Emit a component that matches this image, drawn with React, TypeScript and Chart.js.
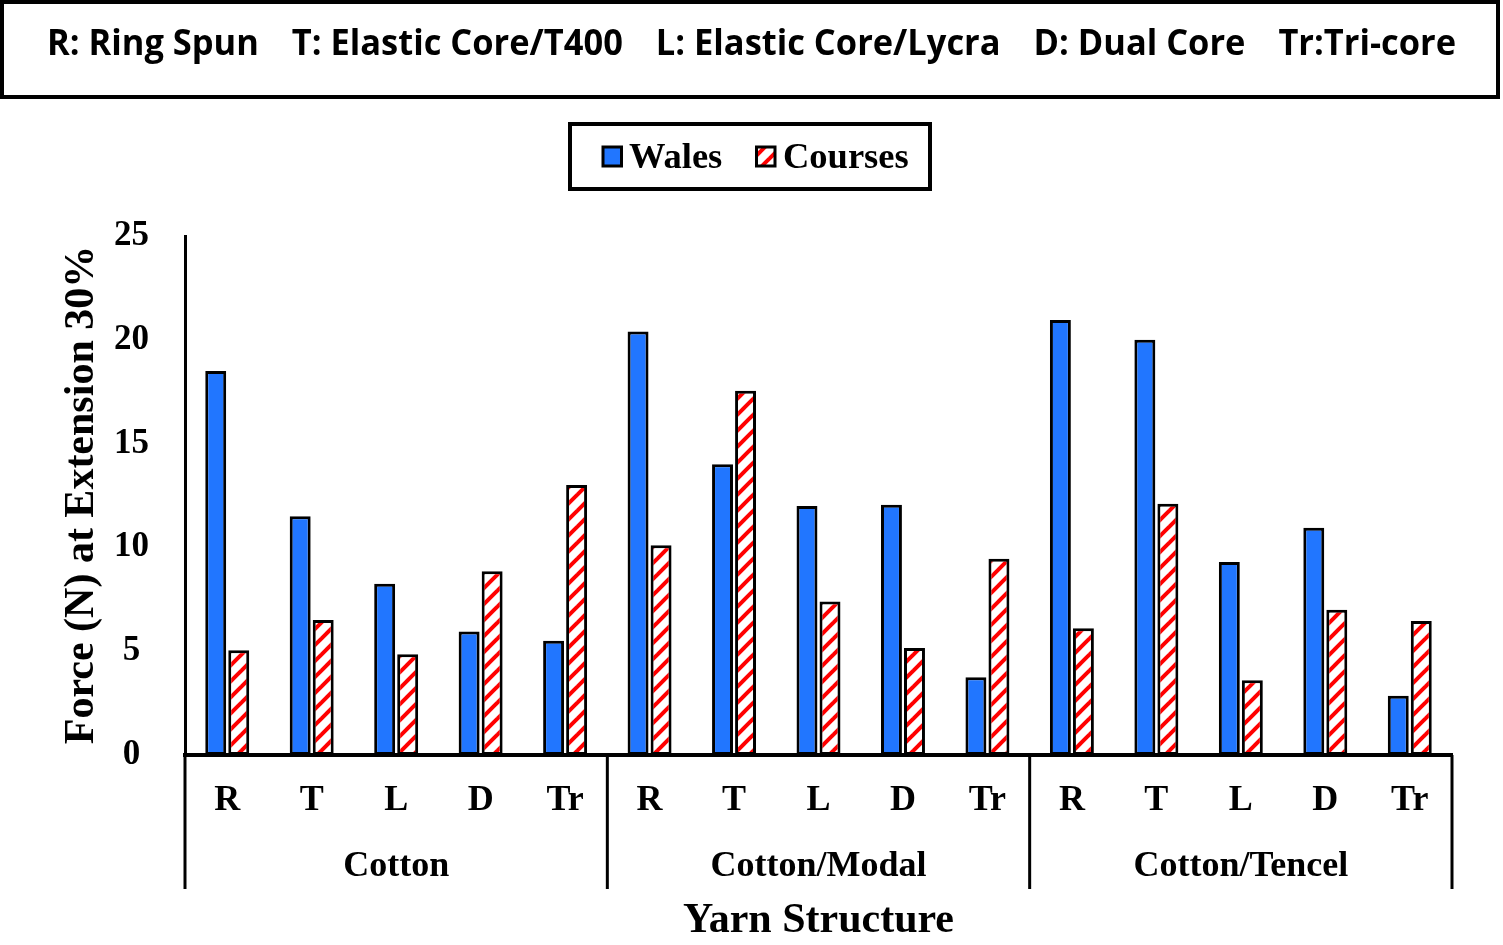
import React, { useEffect, useRef } from 'react';
import { Chart, registerables } from 'chart.js';

Chart.register(...registerables);

// ---------- data ----------
const KEY_ITEMS = ['R: Ring Spun', 'T: Elastic Core/T400', 'L: Elastic Core/Lycra', 'D: Dual Core', 'Tr:Tri-core'];
const STRUCTURES = ['R', 'T', 'L', 'D', 'Tr'];
const BLENDS = ['Cotton', 'Cotton/Modal', 'Cotton/Tencel'];
const SERIES_NAMES = ['Wales', 'Courses'];
const WALES = [18.5, 11.5, 8.25, 5.95, 5.5, 20.4, 14.0, 12.0, 12.05, 3.75, 20.95, 20.0, 9.3, 10.95, 2.85];
const COURSES = [5.05, 6.5, 4.85, 8.85, 13.0, 10.1, 17.55, 7.4, 5.15, 9.45, 6.1, 12.1, 3.6, 7.0, 6.45];
const Y_MIN = 0;
const Y_MAX = 25;
const Y_STEP = 5;
const Y_TITLE = 'Force (N) at Extension 30%';
const X_TITLE = 'Yarn Structure';

const SERIF = "'Liberation Serif', 'Times New Roman', serif";
const BLUE = '#2176FF';
const RED = '#FF0000';

const LABELS = BLENDS.flatMap(() => STRUCTURES);

function makeStripes(ctx: CanvasRenderingContext2D) {
  const s = 16;
  const tile = document.createElement('canvas');
  tile.width = s;
  tile.height = s;
  const g = tile.getContext('2d')!;
  g.fillStyle = '#ffffff';
  g.fillRect(0, 0, s, s);
  g.strokeStyle = RED;
  g.lineWidth = 4;
  for (let k = 0; k <= 2; k++) {
    g.beginPath();
    g.moveTo(-s, k * s + s);
    g.lineTo(2 * s, k * s - 2 * s);
    g.stroke();
  }
  return ctx.createPattern(tile, 'repeat')!;
}

const decorPlugin = {
  id: 'decor',
  afterDraw(chart: any) {
    const { ctx, chartArea: a, scales } = chart;
    const xs = scales.x;
    ctx.save();
    ctx.fillStyle = '#000';
    ctx.strokeStyle = '#000';

    // ---- key box at the top ----
    ctx.lineWidth = 4;
    ctx.strokeRect(2, 2, 1496, 95);
    ctx.font = "bold 36px 'Open Sans', 'Noto Sans', sans-serif";
    ctx.textAlign = 'left';
    ctx.textBaseline = 'alphabetic';
    const widths = KEY_ITEMS.map((t) => ctx.measureText(t).width);
    const gap = 33;
    const x0 = 47;
    const x1 = 1456;
    const sx = (x1 - x0 - gap * (KEY_ITEMS.length - 1)) / widths.reduce((p, q) => p + q, 0);
    let cx = x0;
    KEY_ITEMS.forEach((t, i) => {
      ctx.save();
      ctx.translate(cx, 55);
      ctx.scale(sx, 1);
      ctx.fillText(t, 0, 0);
      ctx.restore();
      cx += widths[i] * sx + gap;
    });

    // ---- legend box ----
    ctx.lineWidth = 4;
    ctx.strokeRect(570, 124, 360, 65);
    const swatchX = [603, 756.5];
    const textX = [629, 783];
    chart.data.datasets.forEach((ds: any, i: number) => {
      ctx.fillStyle = ds.backgroundColor;
      ctx.fillRect(swatchX[i], 147, 18.5, 19);
      ctx.lineWidth = 3;
      ctx.strokeRect(swatchX[i], 147, 18.5, 19);
      ctx.fillStyle = '#000';
      ctx.font = `bold 36.5px ${SERIF}`;
      ctx.textAlign = 'left';
      ctx.textBaseline = 'alphabetic';
      ctx.fillText(ds.label, textX[i], 168);
    });

    // ---- y axis title ----
    ctx.save();
    ctx.font = `bold 42px ${SERIF}`;
    ctx.translate(82, 495);
    ctx.rotate(-Math.PI / 2);
    ctx.textAlign = 'center';
    ctx.textBaseline = 'middle';
    ctx.fillText(Y_TITLE, 0, 0);
    ctx.restore();

    // ---- group separators and labels ----
    const per = STRUCTURES.length;
    const bounds: number[] = [];
    for (let k = 0; k <= BLENDS.length; k++) {
      if (k === 0) bounds.push(a.left);
      else if (k === BLENDS.length) bounds.push(a.right);
      else bounds.push((xs.getPixelForValue(k * per - 1) + xs.getPixelForValue(k * per)) / 2);
    }
    ctx.lineWidth = 3;
    bounds.forEach((b) => {
      ctx.beginPath();
      ctx.moveTo(b, a.bottom);
      ctx.lineTo(b, 889);
      ctx.stroke();
    });
    ctx.font = `bold 36px ${SERIF}`;
    ctx.textAlign = 'center';
    ctx.textBaseline = 'middle';
    BLENDS.forEach((name, k) => {
      ctx.fillText(name, (bounds[k] + bounds[k + 1]) / 2, 867);
    });

    // ---- x axis title ----
    ctx.font = `bold 42px ${SERIF}`;
    ctx.fillText(X_TITLE, (a.left + a.right) / 2, 921);

    ctx.restore();
  },
};

export default function App() {
  const canvasRef = useRef<HTMLCanvasElement>(null);

  useEffect(() => {
    const canvas = canvasRef.current!;
    const ctx = canvas.getContext('2d')!;
    const stripes = makeStripes(ctx);
    const chart = new Chart(canvas, {
      type: 'bar',
      data: {
        labels: LABELS,
        datasets: [
          {
            label: SERIES_NAMES[0],
            data: WALES,
            backgroundColor: BLUE,
            borderColor: '#000',
            borderWidth: 3,
            borderSkipped: false,
            categoryPercentage: 0.545,
            barPercentage: 0.91,
          },
          {
            label: SERIES_NAMES[1],
            data: COURSES,
            backgroundColor: stripes as any,
            borderColor: '#000',
            borderWidth: 3,
            borderSkipped: false,
            categoryPercentage: 0.545,
            barPercentage: 0.91,
          },
        ],
      },
      options: {
        animation: false,
        responsive: false,
        devicePixelRatio: 1,
        layout: { padding: { top: 236, right: 51, bottom: 0, left: 0 } },
        plugins: {
          legend: { display: false },
          tooltip: { enabled: false },
          title: { display: false },
        },
        scales: {
          x: {
            grid: { display: false, drawTicks: false },
            border: { display: true, color: '#000', width: 4 },
            ticks: {
              color: '#000',
              font: { family: SERIF, size: 36, weight: 'bold' },
              padding: 24,
              maxRotation: 0,
              autoSkip: false,
            },
            afterFit: (scale: any) => {
              scale.height = 190;
            },
          },
          y: {
            min: Y_MIN,
            max: Y_MAX,
            grid: { display: false, drawTicks: false },
            border: { display: true, color: '#000', width: 3 },
            ticks: {
              stepSize: Y_STEP,
              color: '#000',
              font: { family: SERIF, size: 35, weight: 'bold' },
              padding: 36,
              crossAlign: 'center',
            },
            afterFit: (scale: any) => {
              scale.width = 185;
            },
          },
        },
      },
      plugins: [decorPlugin],
    });
    return () => chart.destroy();
  }, []);

  return (
    <div style={{ position: 'fixed', left: 0, top: 0, width: 1503, height: 945, background: '#fff' }}>
      <canvas ref={canvasRef} width={1503} height={945} style={{ display: 'block', width: 1503, height: 945 }} />
    </div>
  );
}
